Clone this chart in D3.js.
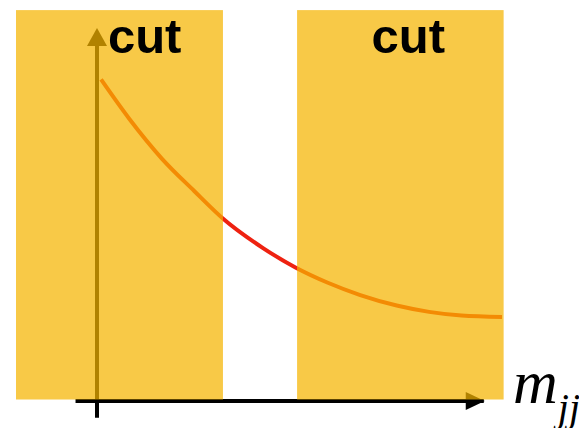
<!DOCTYPE html>
<html>
<head>
<meta charset="utf-8">
<script src="https://cdn.jsdelivr.net/npm/d3@7"></script>
<style>
  html, body { margin: 0; padding: 0; background: #fff; }
  svg { display: block; }
</style>
</head>
<body>
<svg id="chart" width="579" height="428"></svg>
<script>
// curve (arbitrary units, x and y both 0..100)
const massValues = [1, 8, 16, 24, 31, 41, 49, 57, 65, 74, 82, 90, 100];
const eventValues = [86.2, 75.6, 65.0, 56.3, 49.0, 41.0, 35.8, 31.7, 28.4, 25.6, 23.9, 22.9, 22.5];

// the two cut windows
const cutStarts = [-20, 49.4];
const cutEnds = [31.1, 100.4];
const cutLabels = ["cut", "cut"];
const cutLabelX = [2.7, 67.8];

const axisLabel = "m";
const axisSub = "jj";

const svg = d3.select("#chart");

const x = d3.scaleLinear().domain([0, 100]).range([97, 502]);
const y = d3.scaleLinear().domain([0, 100]).range([401, 28]);

const AXIS_W = 4;
const ARROW_L = 19, ARROW_H = 18;

// x axis with arrow
const xAxisG = svg.append("g").attr("class", "x-axis");
xAxisG.append("line")
    .attr("x1", x(-5.3)).attr("x2", x(95.5))
    .attr("y1", y(0)).attr("y2", y(0))
    .attr("stroke", "#000").attr("stroke-width", AXIS_W);
xAxisG.append("path")
    .attr("d", `M${x(95.5) + 1},${y(0)} l${-ARROW_L},${-ARROW_H / 2} l0,${ARROW_H} Z`)
    .attr("fill", "#000");

// y axis with arrow (pokes a little below the x axis)
const yAxisG = svg.append("g").attr("class", "y-axis");
yAxisG.append("line")
    .attr("x1", x(0)).attr("x2", x(0))
    .attr("y1", y(-4.5)).attr("y2", y(95.5))
    .attr("stroke", "#000").attr("stroke-width", AXIS_W);
yAxisG.append("path")
    .attr("d", `M${x(0)},${y(100)} l${-ARROW_H / 2 - 1},${ARROW_L - 1} l${ARROW_H + 2},0 Z`)
    .attr("fill", "#000");

// the spectrum, drawn in red; the cut windows tint it orange
const pts = massValues.map((m, i) => ({ m: m, n: eventValues[i] }));
svg.append("path")
    .datum(pts)
    .attr("fill", "none")
    .attr("stroke", "#ee2211")
    .attr("stroke-width", 4)
    .attr("d", d3.line()
        .x(d => x(d.m))
        .y(d => y(d.n))
        .curve(d3.curveMonotoneX));

// translucent cut windows on top
const cuts = cutStarts.map((s, i) => ({ s: s, e: cutEnds[i] }));
svg.selectAll("rect.cut")
    .data(cuts)
    .enter().append("rect")
    .attr("class", "cut")
    .attr("x", d => x(d.s))
    .attr("width", d => x(d.e) - x(d.s))
    .attr("y", y(104.8))
    .attr("height", y(0.4) - y(104.8))
    .attr("fill", "#f5b400")
    .attr("fill-opacity", 0.72);

svg.selectAll("text.cut-label")
    .data(cutLabels)
    .enter().append("text")
    .attr("class", "cut-label")
    .attr("x", (d, i) => x(cutLabelX[i]))
    .attr("y", 52.5)
    .attr("font-family", "'Liberation Sans', Arial, sans-serif")
    .attr("font-weight", "bold")
    .attr("font-size", 49)
    .attr("fill", "#000")
    .text(d => d);

// axis title m_jj
const lbl = svg.append("text")
    .attr("x", 513)
    .attr("y", 403)
    .attr("font-family", "'Liberation Serif', 'Times New Roman', serif")
    .attr("font-style", "italic")
    .attr("font-size", 62)
    .attr("fill", "#000");
lbl.append("tspan").text(axisLabel);
lbl.append("tspan")
    .attr("font-size", 40)
    .attr("dy", 18)
    .text(axisSub);
</script>
</body>
</html>
